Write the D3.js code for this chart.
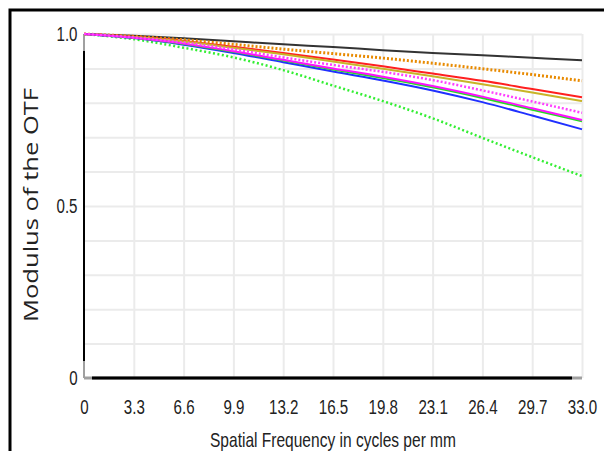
<!DOCTYPE html>
<html>
<head>
<meta charset="utf-8">
<script src="https://cdn.jsdelivr.net/npm/d3@7"></script>
<style>
  body { margin: 0; background: #fff; }
  svg { display: block; }
</style>
</head>
<body>
<div id="chart"></div>
<script>
// chart data: MTF curves
var freq = [0, 3.3, 6.6, 9.9, 13.2, 16.5, 19.8, 23.1, 26.4, 29.7, 33.0];
var xTickLabels = ["0", "3.3", "6.6", "9.9", "13.2", "16.5", "19.8", "23.1", "26.4", "29.7", "33.0"];
var yTicks = [0, 0.5, 1.0];
var yTickLabels = ["0", "0.5", "1.0"];

var blackSolid   = [1, 0.995, 0.988, 0.979, 0.970, 0.962, 0.953, 0.945, 0.938, 0.931, 0.924];
var orangeDotted = [1, 0.993, 0.983, 0.970, 0.956, 0.943, 0.930, 0.915, 0.899, 0.882, 0.864];
var redSolid     = [1, 0.992, 0.980, 0.963, 0.945, 0.926, 0.906, 0.885, 0.864, 0.840, 0.816];
var oliveSolid   = [1, 0.991, 0.978, 0.960, 0.941, 0.920, 0.899, 0.877, 0.854, 0.830, 0.805];
var magentaDotted= [1, 0.990, 0.975, 0.955, 0.932, 0.910, 0.890, 0.866, 0.836, 0.804, 0.771];
var greenSolid   = [1, 0.989, 0.971, 0.948, 0.923, 0.897, 0.872, 0.845, 0.814, 0.780, 0.746];
var magentaSolid = [1, 0.989, 0.972, 0.950, 0.925, 0.900, 0.876, 0.849, 0.818, 0.784, 0.750];
var blueSolid    = [1, 0.988, 0.969, 0.945, 0.918, 0.891, 0.865, 0.836, 0.802, 0.763, 0.723];
var greenDotted  = [1, 0.985, 0.960, 0.932, 0.895, 0.850, 0.805, 0.755, 0.698, 0.642, 0.587];

var svgWidth = 604;
var svgHeight = 451;

var margin = { top: 34, left: 84 };
var chartWidth = 498;
var chartHeight = 344;

var svg = d3.select("#chart")
  .append("svg")
  .attr("width", svgWidth)
  .attr("height", svgHeight);

svg.append("rect")
  .attr("width", svgWidth)
  .attr("height", svgHeight)
  .attr("fill", "#fff");

// outer frame (runs off the right side)
svg.append("rect")
  .attr("x", 10)
  .attr("y", 10)
  .attr("width", 700)
  .attr("height", 600)
  .attr("fill", "none")
  .attr("stroke", "#000")
  .attr("stroke-width", 3);

var chartGroup = svg.append("g")
  .attr("transform", `translate(${margin.left}, ${margin.top})`);

var xScale = d3.scaleLinear().domain([0, 33]).range([0, chartWidth]);
var yScale = d3.scaleLinear().domain([0, 1]).range([chartHeight, 0]);

// grid
chartGroup.append("g")
  .attr("class", "grid")
  .call(d3.axisLeft(yScale).tickValues(d3.range(1, 11).map(d => d / 10)).tickSize(-chartWidth).tickFormat(""))
  .call(g => g.select(".domain").remove())
  .call(g => g.selectAll("line").attr("stroke", "#ebebeb").attr("stroke-width", 2));

chartGroup.append("g")
  .attr("class", "grid")
  .attr("transform", `translate(0, ${chartHeight})`)
  .call(d3.axisBottom(xScale).tickValues(freq.slice(1)).tickSize(-chartHeight).tickFormat(""))
  .call(g => g.select(".domain").remove())
  .call(g => g.selectAll("line").attr("stroke", "#ebebeb").attr("stroke-width", 2));

// axis lines: grey ends, black middle
chartGroup.append("line")
  .attr("x1", 0).attr("x2", 0)
  .attr("y1", 0).attr("y2", chartHeight)
  .attr("stroke", "#a0a0a0").attr("stroke-width", 2);
chartGroup.append("line")
  .attr("x1", 0).attr("x2", 0)
  .attr("y1", 17).attr("y2", chartHeight - 17)
  .attr("stroke", "#000").attr("stroke-width", 2);
chartGroup.append("line")
  .attr("x1", 0).attr("x2", chartWidth)
  .attr("y1", chartHeight).attr("y2", chartHeight)
  .attr("stroke", "#a0a0a0").attr("stroke-width", 3);
chartGroup.append("line")
  .attr("x1", 8).attr("x2", chartWidth - 10)
  .attr("y1", chartHeight).attr("y2", chartHeight)
  .attr("stroke", "#000").attr("stroke-width", 3);

// tick labels
var xAxis = d3.axisBottom(xScale).tickValues(freq).tickSize(0).tickPadding(21)
  .tickFormat((d, i) => xTickLabels[i]);
chartGroup.append("g")
  .attr("transform", `translate(0, ${chartHeight})`)
  .call(xAxis)
  .call(g => g.select(".domain").remove())
  .call(g => g.selectAll("text")
    .attr("font-family", "'Liberation Sans', Arial, sans-serif")
    .attr("font-size", 21)
    .attr("fill", "#222")
    .attr("transform", "scale(0.72,1)"));

var yAxis = d3.axisLeft(yScale).tickValues(yTicks).tickSize(0).tickPadding(9)
  .tickFormat((d, i) => yTickLabels[i]);
chartGroup.append("g")
  .call(yAxis)
  .call(g => g.select(".domain").remove())
  .call(g => g.selectAll("text")
    .attr("font-family", "'Liberation Sans', Arial, sans-serif")
    .attr("font-size", 21)
    .attr("fill", "#222")
    .attr("transform", "scale(0.72,1)"));

// curves
var series = [
  { values: greenDotted, color: "#33ee33", dash: "2,2.5", width: 2.5 },
  { values: blackSolid, color: "#333", dash: null, width: 2 },
  { values: orangeDotted, color: "#e88a00", dash: "2,2", width: 3 },
  { values: redSolid, color: "#ff2020", dash: null, width: 2 },
  { values: oliveSolid, color: "#c8b428", dash: null, width: 2 },
  { values: blueSolid, color: "#2030ff", dash: null, width: 2 },
  { values: greenSolid, color: "#22dd22", dash: null, width: 2 },
  { values: magentaSolid, color: "#ff10ff", dash: null, width: 2 },
  { values: magentaDotted, color: "#ff40ff", dash: "2,2", width: 2.5 }
];

var line = d3.line()
  .x((d, i) => xScale(freq[i]))
  .y(d => yScale(d))
  .curve(d3.curveMonotoneX);

chartGroup.selectAll(".curve")
  .data(series)
  .enter()
  .append("path")
  .attr("class", "curve")
  .attr("d", d => line(d.values))
  .attr("fill", "none")
  .attr("stroke", d => d.color)
  .attr("stroke-width", d => d.width)
  .attr("stroke-dasharray", d => d.dash);

// axis titles
svg.append("text")
  .attr("x", 333)
  .attr("y", 447)
  .attr("text-anchor", "middle")
  .attr("font-family", "'Liberation Sans', Arial, sans-serif")
  .attr("font-size", 21)
  .attr("fill", "#222")
  .attr("textLength", 246)
  .attr("lengthAdjust", "spacingAndGlyphs")
  .text("Spatial Frequency in cycles per mm");

svg.append("text")
  .attr("transform", "translate(38, 205) rotate(-90)")
  .attr("text-anchor", "middle")
  .attr("font-family", "'Open Sans', sans-serif")
  .attr("font-size", 20)
  .attr("fill", "#222")
  .attr("textLength", 234)
  .attr("lengthAdjust", "spacingAndGlyphs")
  .text("Modulus of the OTF");
</script>
</body>
</html>
